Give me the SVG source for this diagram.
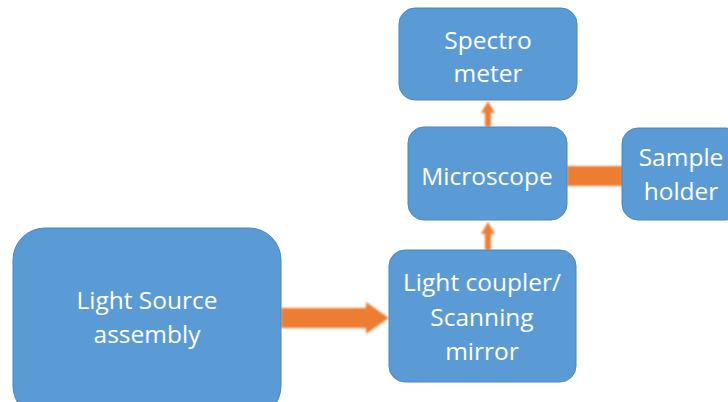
<svg xmlns="http://www.w3.org/2000/svg" width="728" height="402" viewBox="0 0 728 402">
<defs>
<style>
.box{fill:#5B9BD5;stroke:#4A86C0;stroke-width:1}
.t{font-family:"Open Sans","Liberation Sans",sans-serif;font-size:24.5px;fill:#ffffff;text-anchor:middle}
.c{fill:#ED7D31;filter:url(#bl)}
</style>
<filter id="bl" x="-20%" y="-20%" width="140%" height="140%"><feGaussianBlur stdDeviation="1.2"/></filter>
</defs>
<g id="connectors">
<polygon class="c" points="281,308 366,308 366,302 389,318 366,334 366,328 281,328"/>
<polygon class="c" points="485,250 485,234 481,234 488,222 495,234 491,234 491,250"/>
<polygon class="c" points="485,127 485,113 481,113 488,101 495,113 491,113 491,127"/>
<rect class="c" x="567" y="166" width="56" height="20"/>
</g>
<g id="light-source">
<rect class="box" x="13" y="228" width="268" height="190" rx="32"/>
<text class="t" x="147" y="309">Light Source</text>
<text class="t" x="147" y="343">assembly</text>
</g>
<g id="coupler">
<rect class="box" x="389" y="250" width="187" height="132" rx="16"/>
<text class="t" x="482" y="291">Light coupler/</text>
<text class="t" x="482" y="326">Scanning</text>
<text class="t" x="482" y="360">mirror</text>
</g>
<g id="microscope">
<rect class="box" x="408" y="127" width="159" height="93" rx="16"/>
<text class="t" x="487" y="185">Microscope</text>
</g>
<g id="spectrometer">
<rect class="box" x="399" y="8" width="178" height="92" rx="16"/>
<text class="t" x="488" y="49">Spectro</text>
<text class="t" x="488" y="82">meter</text>
</g>
<g id="sample-holder">
<rect class="box" x="622" y="128" width="120" height="92" rx="16"/>
<text class="t" x="681" y="166">Sample</text>
<text class="t" x="681" y="200">holder</text>
</g>
</svg>
